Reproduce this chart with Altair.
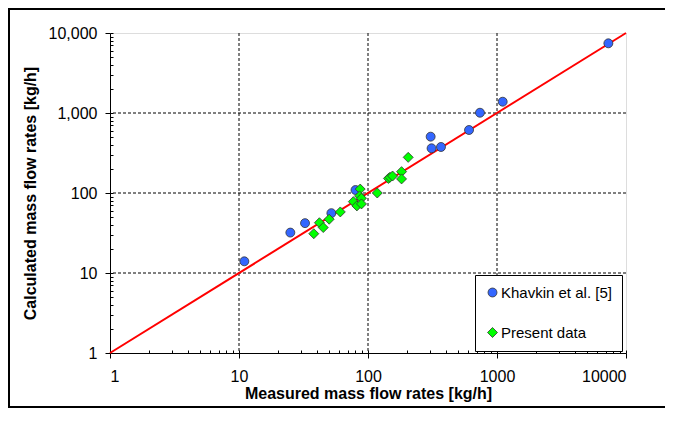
import altair as alt
import pandas as pd

# ---- data ----
khavkin_measured = [11, 25, 32.5, 52, 80, 306, 311, 368, 607, 738, 1107, 7300]
khavkin_calc = [14, 32, 42, 56, 109, 506, 362, 376, 613, 1008, 1384, 7430]
present_measured = [38, 42, 45, 50, 61, 77, 87, 86, 89, 82, 89, 118, 144, 148, 155, 182, 182, 205]
present_calc = [31, 42.5, 37, 47, 58, 78, 112, 92, 86, 69, 73, 100, 152, 157, 163, 185, 150, 279]
series_names = ["Khavkin et al. [5]", "Present data"]
series_colors = ["#3366FF", "#00FF00"]
series_shapes = ["circle", "diamond"]
series_sizes = [80, 100]
major_ticks = [1, 10, 100, 1000, 10000]
grid_values = [10, 100, 1000]
minor_ticks = [k * d for d in [1, 10, 100, 1000] for k in range(1, 10)] + [10000]
line_ends = [1, 10000]

FONT = "Liberation Sans"
W, H = 516, 320
PAD_L, PAD_T, PAD_R, PAD_B = 102, 25, 39, 55
TOTAL_W = PAD_L + W + PAD_R
TOTAL_H = PAD_T + H + PAD_B

points_df = pd.DataFrame({
    "measured": khavkin_measured + present_measured,
    "calculated": khavkin_calc + present_calc,
    "series": [series_names[0]] * len(khavkin_measured) + [series_names[1]] * len(present_measured),
})
line_df = pd.DataFrame({"v": line_ends})
gx_df = pd.DataFrame({"g": grid_values})
dummy = pd.DataFrame({"a": [0]})

xs = alt.Scale(type="log", domain=[1, 10000], nice=False)
ys = alt.Scale(type="log", domain=[1, 10000], nice=False)

common_axis = dict(
    grid=False, tickSize=5, tickColor="black", domainColor="black",
    labelFont=FONT, labelFontSize=16, labelColor="black",
    titleFont=FONT, titleFontSize=16, titleFontWeight="bold", titleColor="black",
)

x_main = alt.Axis(values=major_ticks, format="d", title="Measured mass flow rates [kg/h]",
                  labelPadding=10, titlePadding=1, **common_axis)
y_main = alt.Axis(values=major_ticks, format=",", title="Calculated mass flow rates [kg/h]",
                  labelPadding=8, titlePadding=10, **common_axis)

minor_axis = dict(values=minor_ticks, labels=False, domain=False, grid=False,
                  tickSize=3, offset=-3, tickColor="black", title=None)

grid_x = alt.Chart(gx_df).mark_rule(color="black", strokeDash=[3, 2], strokeWidth=1).encode(
    x=alt.X("g:Q", scale=xs, axis=None))
grid_y = alt.Chart(gx_df).mark_rule(color="black", strokeDash=[3, 2], strokeWidth=1).encode(
    y=alt.Y("g:Q", scale=ys, axis=None))

line = alt.Chart(line_df).mark_line(color="#FF0000", strokeWidth=2).encode(
    x=alt.X("v:Q", scale=xs, axis=x_main),
    y=alt.Y("v:Q", scale=ys, axis=y_main),
)

legend = alt.Legend(
    title=None, orient="none", legendX=365, legendY=242,
    strokeColor="black", fillColor="white", padding=10, rowPadding=24,
    labelFont=FONT, labelFontSize=15, labelColor="black", labelOffset=1,
    symbolSize=60, symbolStrokeColor="#333333", symbolStrokeWidth=0.8,
)

points = alt.Chart(points_df).mark_point(filled=True, opacity=1,
                                         stroke="#333333", strokeWidth=0.8).encode(
    x=alt.X("measured:Q", scale=xs, axis=alt.Axis(orient="bottom", **minor_axis)),
    y=alt.Y("calculated:Q", scale=ys, axis=alt.Axis(orient="left", **minor_axis)),
    color=alt.Color("series:N", scale=alt.Scale(domain=series_names, range=series_colors), legend=legend),
    shape=alt.Shape("series:N", scale=alt.Scale(domain=series_names, range=series_shapes), legend=legend),
    size=alt.Size("series:N", scale=alt.Scale(domain=series_names, range=series_sizes), legend=None),
)

bottom_y = TOTAL_H - PAD_T - 1
right_x = TOTAL_W - PAD_L
border_left = alt.Chart(dummy).mark_rule(color="black", strokeWidth=2).encode(
    x=alt.value(-PAD_L + 1), y=alt.value(-PAD_T + 1), y2=alt.value(bottom_y))
border_top = alt.Chart(dummy).mark_rule(color="black", strokeWidth=2).encode(
    x=alt.value(-PAD_L), x2=alt.value(right_x), y=alt.value(-PAD_T + 1))
border_bottom = alt.Chart(dummy).mark_rule(color="black", strokeWidth=2).encode(
    x=alt.value(-PAD_L), x2=alt.value(right_x), y=alt.value(bottom_y))

chart = alt.layer(
    grid_x, grid_y, line, points, border_left, border_top, border_bottom
).resolve_axis(x="independent", y="independent").properties(
    width=W, height=H,
    autosize=alt.AutoSizeParams(type="none"),
    padding={"left": PAD_L, "top": PAD_T, "right": PAD_R, "bottom": PAD_B},
).configure_view(stroke="#808080", strokeWidth=1).configure(background="white")

chart.save("out.html", embed_options={"renderer": "svg", "actions": False})
